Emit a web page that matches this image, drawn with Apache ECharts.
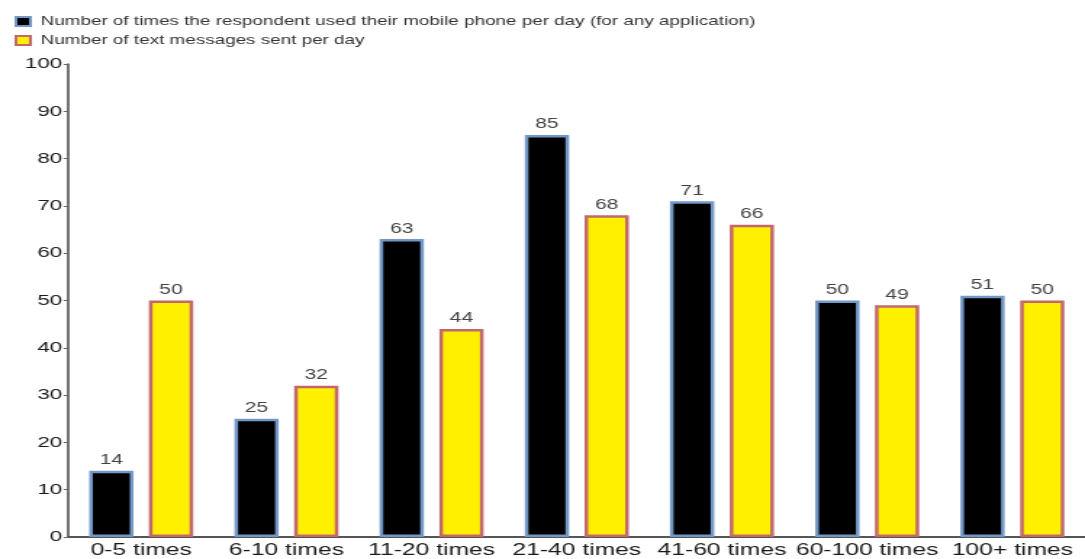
<!DOCTYPE html>
<html>
<head>
<meta charset="utf-8">
<script src="https://cdn.jsdelivr.net/npm/echarts@6/dist/echarts.min.js"></script>
<style>
  html, body { margin: 0; padding: 0; background: #fff; overflow: hidden; }
  /* the chart is laid out narrow and widened horizontally, giving its wide lettering */
  #chart { width: 748px; height: 559px; transform: scaleX(1.4505); transform-origin: 0 0; }
</style>
</head>
<body>
<div id="chart"></div>
<script>
// Mobile phone use per day: category ranges and counts for each measure
const categories = ['0-5 times', '6-10 times', '11-20 times', '21-40 times', '41-60 times', '60-100 times', '100+ times'];
const phoneUse = [14, 25, 63, 85, 71, 50, 51];
const textsSent = [50, 32, 44, 68, 66, 49, 50];
const seriesNames = [
  'Number of times the respondent used their mobile phone per day (for any application)',
  'Number of text messages sent per day'
];

const chart = echarts.init(document.getElementById('chart'));
const font = 'Liberation Sans, Arial, sans-serif';

chart.setOption({
  animation: false,
  textStyle: { fontFamily: font },
  legend: {
    orient: 'vertical',
    left: 5,
    top: 10,
    icon: 'rect',
    itemWidth: 10,
    itemHeight: 9,
    itemGap: 6,
    textStyle: { fontSize: 13, color: '#333', fontFamily: font, padding: [0, 0, 0, 2] },
    data: seriesNames
  },
  grid: { left: 47.3, top: 64, width: 708, bottom: 21 },
  xAxis: {
    type: 'category',
    data: categories,
    axisLine: { lineStyle: { color: '#555', width: 2 } },
    axisTick: { alignWithLabel: true, length: 3, lineStyle: { color: '#aaa' } },
    axisLabel: { fontSize: 17, color: '#1a1a1a', margin: 5, interval: 0 }
  },
  yAxis: {
    type: 'value',
    min: 0,
    max: 100,
    interval: 10,
    offset: 0.4,
    axisLine: { show: true, lineStyle: { color: '#444', width: 1.5 } },
    axisTick: { show: true, length: 3, lineStyle: { color: '#666' } },
    splitLine: { show: false },
    axisLabel: { fontSize: 15.5, color: '#1a1a1a', margin: 4 }
  },
  series: [
    {
      name: seriesNames[0],
      type: 'bar',
      data: phoneUse,
      barWidth: 30.5,
      barGap: '35%',
      itemStyle: { color: '#000', borderColor: '#7398c8', borderWidth: 2.5 },
      label: { show: true, position: 'top', distance: 3, fontSize: 14.5, color: '#444' }
    },
    {
      name: seriesNames[1],
      type: 'bar',
      data: textsSent,
      barWidth: 30.5,
      itemStyle: { color: '#fff000', borderColor: '#c2686c', borderWidth: 2.5 },
      label: { show: true, position: 'top', distance: 3, fontSize: 14.5, color: '#444' }
    }
  ]
});
</script>
</body>
</html>
